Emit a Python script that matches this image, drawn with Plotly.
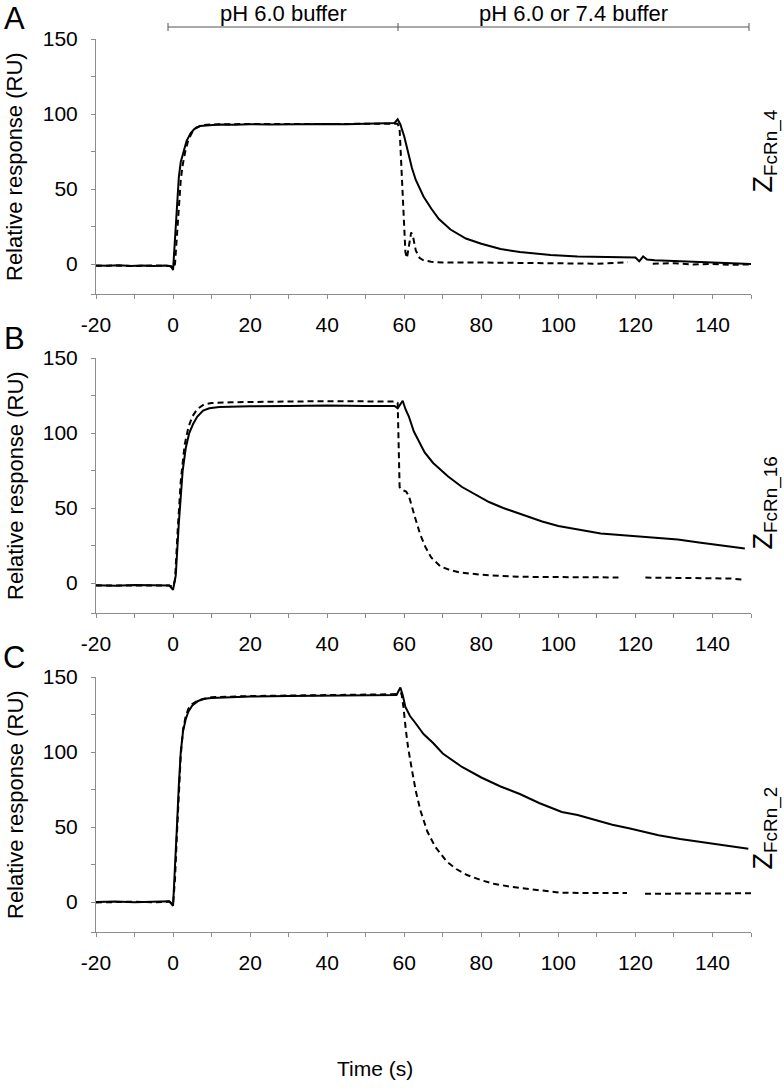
import plotly.graph_objects as go

# ---------------- data (time in s, response in RU) ----------------
A_solid = [(-20,-1),(-17,-1.2),(-14,-0.8),(-11,-1.3),(-8,-1),(-5,-1.4),(-2,-1),(-0.5,-1.5),(0,-4),
           (0.5,15),(1,40),(1.5,58),(2,68),(2.75,76),(3.5,82),(4.5,87),(5.5,90),(7,92),(9,92.5),
           (12,93),(16,92.8),(20,93.2),(25,93),(30,93.3),(35,93.1),(40,93.4),(45,93.2),(50,93.5),
           (55,93.4),(57.5,94),(58.3,96.5),(59,93),(60,85),(61,74),(62,64),(63,56),(65,45),(67,37),
           (69,30),(72,23),(76,17),(80,13.5),(85,10),(90,8),(98,6),(105,5),(112,4.5),(118,4.2),
           (120,4.3),(121,1.8),(122,5),(123,3),(125,2.5),(130,2),(135,1.5),(140,1),(145,0.5),(150,0)]
A_dashed = [(-20,-1.2),(-15,-1),(-10,-1.3),(-5,-1),(-1,-1.3),(0,-2.5),(0.5,0),(1,20),(1.5,42),(2,56),
            (2.5,66),(3.25,76),(4,83),(5,88),(6,91),(7.5,92.5),(10,93),(15,93.2),(20,93.4),(30,93.3),
            (40,93.5),(50,93.3),(55,93.5),(58.3,93.5),(58.8,90),(59.3,60),(59.8,30),(60.3,8),(60.7,4),
            (61.2,12),(61.8,21),(62.3,18),(63,9),(64,4),(65,2.5),(67,1.5),(70,1),(80,1),(90,0.8),
            (100,0.3),(110,0.2),(115,0.8),(118,1.2),(121,None),(124.5,0.2),(130,0.5),(135,-0.3),
            (140,0),(145,-0.5),(150,-0.3)]

B_solid = [(-20,-1.5),(-15,-1.8),(-10,-1.4),(-5,-1.7),(-1,-1.6),(0,-4.5),(0.7,5),(1.5,40),(2.5,75),
           (3.3,90),(4.2,100),(5.2,106),(6.3,111),(7.8,115),(9.4,116.5),(12,117.3),(16,117.6),
           (20,117.8),(30,118),(40,118.3),(50,118),(55,118.2),(57.5,118),(58.3,116.5),(59.6,121.5),
           (60.3,116),(61.2,111),(62.5,101),(64,93),(65.3,87),(67.5,80),(71.4,71),(75,64),(78.5,59),
           (82,54),(85.7,50),(90,46),(95.8,41),(100,38),(106,35),(111,33),(116,32),(121,31),
           (126.4,30),(131,29),(136.5,27),(141,25.5),(145,24.5),(148.4,23)]
B_dashed = [(-20,-1.6),(-15,-1.5),(-10,-1.8),(-5,-1.5),(-1,-1.7),(0,-2.5),(0.5,2),(1.2,35),(2,68),
            (3,92),(4,104),(5,111),(6.3,116),(8,119),(10,120),(15,120.5),(20,120.8),(30,121),
            (40,121.2),(50,121),(55,121.2),(57.8,121),(58.3,120),(58.6,90),(58.8,64),(59.5,62),
            (60.5,61),(61.2,58),(62,50),(63,42),(64.2,32),(65.5,24),(67,17),(69.4,11),(72,8.5),
            (74.5,7),(80,5.5),(88,4.3),(95,4),(105,3.6),(110,3.8),(115.6,3.7),(119,None),
            (122.6,3.6),(130,3.5),(135,3.2),(140,3.5),(145,3),(148.4,2)]

C_solid = [(-20,0),(-15,0.3),(-10,-0.2),(-5,0.3),(-1,0.5),(0,-2.5),(0.5,20),(1,50),(1.5,78),(2,100),
           (2.6,114),(3.3,122),(4,127),(5,131),(6.5,134),(8,135.5),(10,136),(15,136.5),(20,137),
           (30,137.3),(40,137.6),(50,137.8),(55,138),(58,138),(59,143),(59.6,138),(60.3,130),
           (61.5,124),(63,119),(65,112),(67.5,106),(70,99),(75,90),(80,83),(85,77),(90,72),(95,66),
           (100.9,60),(105,58),(110,54.5),(114,51.5),(118.6,49),(122,47),(126,44.5),(131.6,42),
           (136,40.5),(140,39),(145,37),(149.3,35.5)]
C_dashed = [(-20,-0.3),(-15,0),(-10,0.2),(-5,-0.2),(-1,0.3),(0,-1.5),(0.5,15),(1,45),(1.5,75),(2,98),
            (2.6,115),(3.3,124),(4,129),(5,132),(6.5,134.5),(8,135.5),(10,136.5),(20,137.3),
            (30,137.6),(40,138),(50,138.2),(57,138.5),(59.3,139),(59.8,130),(60.4,115),(61,103),
            (62,88),(63,74),(64.2,61),(66,47),(68,37),(71,27),(73.5,22),(76.3,18),(80,14.5),
            (83.2,12.2),(88,10),(92.7,8.4),(100.5,6.2),(107,6),(114.3,6.2),(117.8,6),(120,None),
            (122.5,5.5),(130,5.6),(135,5.4),(140,5.8),(145,5.5),(150,5.8)]

panel_letters = ["A", "B", "C"]
construct_labels = ["Z<sub>FcRn_4</sub>", "Z<sub>FcRn_16</sub>", "Z<sub>FcRn_2</sub>"]
x_tickvals = [-20, 0, 20, 40, 60, 80, 100, 120, 140]
x_ticktext = ["-20", "0", "20", "40", "60", "80", "100", "120", "140"]
x_minorvals = [-10, 10, 30, 50, 70, 90, 110, 130, 150]
y_tickvals = [0, 50, 100, 150]
y_ticktext = ["0", "50", "100", "150"]
y_minorvals = [-20, 25, 75, 125]
top_labels = ["pH 6.0 buffer", "pH 6.0 or 7.4 buffer"]

# ---------------- layout geometry (pixels) ----------------
W, H = 784, 1092
panel_tops = [39, 358, 677]
panel_h = 255
L, R, T = 96, 33, 39
B = H - (panel_tops[2] + panel_h)
PW, PH = W - L - R, H - T - B

def pxx(p):
    return (p - L) / PW

def pyy(p):
    return (H - B - p) / PH

FONT = "Liberation Sans, Arial, Helvetica, sans-serif"
AXC = "#8c8c8c"

fig = go.Figure()
series = [(A_solid, A_dashed), (B_solid, B_dashed), (C_solid, C_dashed)]
for i, (s, d) in enumerate(series):
    xa = "x" if i == 0 else f"x{i+1}"
    ya = "y" if i == 0 else f"y{i+1}"
    fig.add_trace(go.Scatter(x=[p[0] for p in d], y=[p[1] for p in d], mode="lines",
                             line=dict(color="black", width=2, dash="6px,4px"),
                             connectgaps=False, xaxis=xa, yaxis=ya, showlegend=False))
    fig.add_trace(go.Scatter(x=[p[0] for p in s], y=[p[1] for p in s], mode="lines",
                             line=dict(color="black", width=2),
                             xaxis=xa, yaxis=ya, showlegend=False))

layout = dict(width=W, height=H, margin=dict(l=L, r=R, t=T, b=B),
              paper_bgcolor="white", plot_bgcolor="white",
              font=dict(family=FONT, color="black"), showlegend=False)

minor_x = dict(tickmode="array", tickvals=x_minorvals, ticks="outside", ticklen=4,
               tickcolor=AXC, tickwidth=1, showgrid=False)
minor_y = dict(tickmode="array", tickvals=y_minorvals, ticks="outside", ticklen=4,
               tickcolor=AXC, tickwidth=1, showgrid=False)

annotations = []
shapes = []
for i in range(3):
    top = panel_tops[i]
    bot = top + panel_h
    xk = "xaxis" if i == 0 else f"xaxis{i+1}"
    yk = "yaxis" if i == 0 else f"yaxis{i+1}"
    xref = "x" if i == 0 else f"x{i+1}"
    yref = "y" if i == 0 else f"y{i+1}"
    layout[xk] = dict(domain=[0, 1], anchor=yref, range=[-20, 150], showline=True, linecolor=AXC,
                      linewidth=1, ticks="outside", ticklen=4, tickcolor=AXC, tickwidth=1,
                      tickmode="array", tickvals=x_tickvals, ticktext=x_ticktext, minor=minor_x,
                      showgrid=False, zeroline=False,
                      tickfont=dict(size=21, family=FONT, color="black"), ticklabelstandoff=8)
    layout[yk] = dict(domain=[pyy(bot), pyy(top)], anchor=xref, range=[-20, 150], showline=True,
                      linecolor=AXC, linewidth=1, ticks="outside", ticklen=4, tickcolor=AXC,
                      tickwidth=1, tickmode="array", tickvals=y_tickvals, ticktext=y_ticktext,
                      minor=minor_y, showgrid=False, zeroline=False,
                      tickfont=dict(size=21, family=FONT, color="black"), ticklabelstandoff=9)
    annotations.append(dict(text=panel_letters[i], x=pxx(14), y=pyy(top - 20), xref="paper",
                            yref="paper", showarrow=False, xanchor="center", yanchor="middle",
                            font=dict(size=31, family=FONT, color="black")))
    annotations.append(dict(text="Relative response (RU)", x=pxx(15), y=pyy(top + 128),
                            xref="paper", yref="paper", showarrow=False, textangle=-90,
                            xanchor="center", yanchor="middle",
                            font=dict(size=22, family=FONT, color="black")))

label_bottoms = [195, 552, 872]
for i in range(3):
    annotations.append(dict(text=construct_labels[i], x=pxx(765), y=pyy(label_bottoms[i]),
                            xref="paper", yref="paper", showarrow=False, textangle=-90,
                            xanchor="center", yanchor="bottom",
                            font=dict(size=27, family=FONT, color="black")))

annotations.append(dict(text=top_labels[0], x=pxx(283), y=pyy(13), xref="paper", yref="paper",
                        showarrow=False, xanchor="center", yanchor="middle",
                        font=dict(size=22, family=FONT, color="black")))
annotations.append(dict(text=top_labels[1], x=pxx(573), y=pyy(13), xref="paper", yref="paper",
                        showarrow=False, xanchor="center", yanchor="middle",
                        font=dict(size=22, family=FONT, color="black")))
annotations.append(dict(text="Time (s)", x=pxx(375), y=pyy(1068), xref="paper", yref="paper",
                        showarrow=False, xanchor="center", yanchor="middle",
                        font=dict(size=21, family=FONT, color="black")))

BR = "#555555"
shapes.append(dict(type="line", xref="paper", yref="paper", x0=pxx(168), x1=pxx(749),
                   y0=pyy(27), y1=pyy(27), line=dict(color=BR, width=1)))
for xp in [168, 398, 749]:
    shapes.append(dict(type="line", xref="paper", yref="paper", x0=pxx(xp), x1=pxx(xp),
                       y0=pyy(23), y1=pyy(31), line=dict(color=BR, width=1)))

layout["annotations"] = annotations
layout["shapes"] = shapes
fig.update_layout(**layout)
fig.write_html("out.html", config={"displayModeBar": False},
               post_script="document.body.style.margin='0px';document.body.style.overflow='hidden';")
